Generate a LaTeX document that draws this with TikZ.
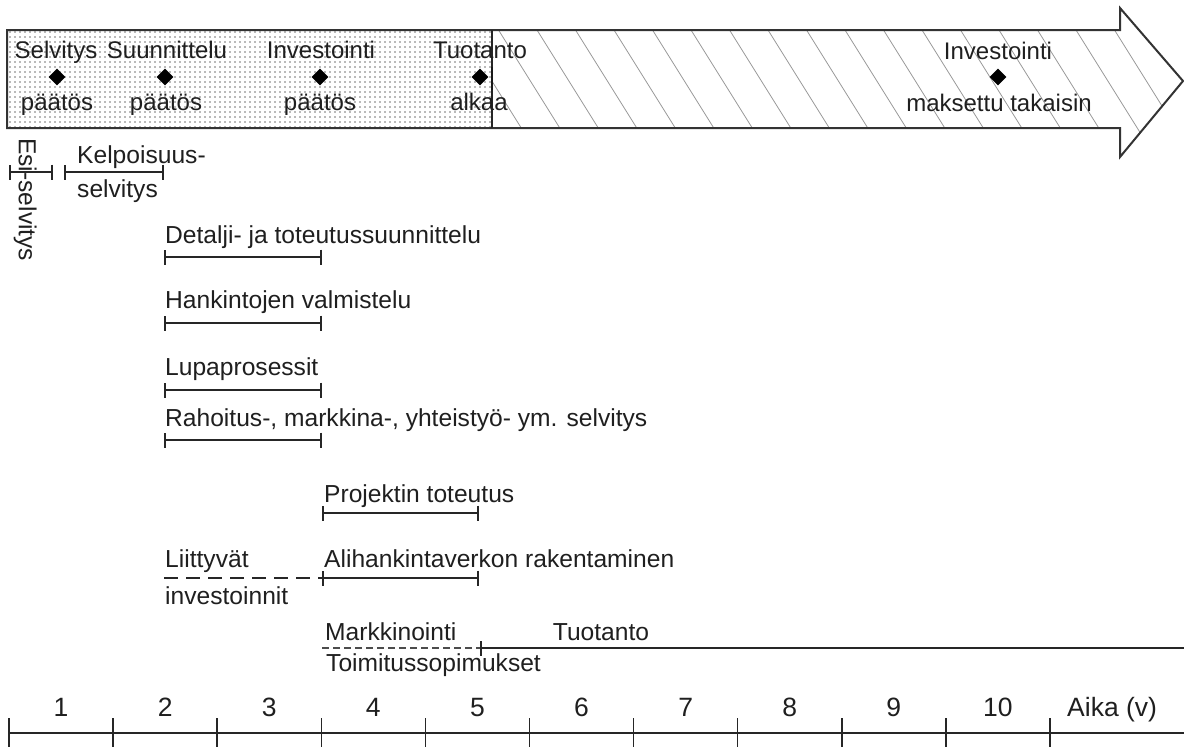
\documentclass[tikz,border=0pt]{standalone}
\usepackage{fontspec}
\setmainfont{Liberation Sans}
\usetikzlibrary{patterns.meta,shapes.geometric,arrows.meta}
\begin{document}
\begin{tikzpicture}[x=1pt,y=-1pt,
  lbl/.style={inner sep=0pt, text=black!88, font=\fontsize{24.6}{28}\selectfont},
  albl/.style={inner sep=0pt, text=black!88, font=\fontsize{24}{28}\selectfont},
  xlbl/.style={inner sep=0pt, text=black!88, font=\fontsize{26.5}{30}\selectfont},
  dia/.style={shape=diamond, fill=black, inner sep=0pt, minimum width=17pt, minimum height=17pt},
  span/.style={line width=1.8pt, draw=black!85, {Bar[width=15pt]}-{Bar[width=15pt]}},
  spanr/.style={line width=1.8pt, draw=black!85, {Bar[width=15pt]}-},
  longdash/.style={line width=1.6pt, draw=black!85, dash pattern=on 14pt off 8pt},
  shortdash/.style={line width=1.4pt, draw=black!70, dash pattern=on 7pt off 4pt},
  hatch/.style={draw=black!40, line width=0.8pt},
  ytick/.style={line width=1.5pt, draw=black!85},
]
\useasboundingbox (0,0) rectangle (1184,747);

% ---------- big arrow ----------
\begin{scope}
  \clip (7,30) rectangle (492,128);
  \fill[pattern={Dots[distance=5pt,radius=0.8pt]}, pattern color=black!55] (7,30) rectangle (492,128);
\end{scope}
\begin{scope}
  \clip (492,30) -- (1120,30) -- (1120,8) -- (1183,81) -- (1120,157) -- (1120,128) -- (492,128) -- cycle;
  \foreach \i in {-2,...,20} {
    \draw[hatch] ({537+38.5*\i-20},{30-32}) -- ++(140,224);
  }
\end{scope}
\draw[line width=2pt, draw=black!80, line join=miter]
  (7,30) -- (1120,30) -- (1120,8) -- (1183,81) -- (1120,157) -- (1120,128) -- (7,128) -- cycle;
\coordinate (divt) at (492,30);
\coordinate (divb) at (492,128);
\draw[line width=1.5pt, black!85] (divt) -- (divb);
\coordinate (tt) at (492,67);
\coordinate (tb) at (492,90);
\draw[line width=2.5pt, black!90] (tt) -- (tb);

% milestone labels
\node[albl, anchor=base] (m1t) at (56,58) {Selvitys};
\node[albl, anchor=base] (m2t) at (167,58) {Suunnittelu};
\node[albl, anchor=base] (m3t) at (321,58) {Investointi};
\node[albl, anchor=base] (m4t) at (480,58) {Tuotanto};
\node[albl, anchor=base] (m5t) at (998,59) {Investointi};
\node[dia] (d1) at (57,77) {};
\node[dia] (d2) at (165,77) {};
\node[dia] (d3) at (320,77) {};
\node[dia] (d4) at (480,77) {};
\node[dia] (d5) at (998,77) {};
\node[albl, anchor=base] (m1b) at (57,110) {päätös};
\node[albl, anchor=base] (m2b) at (166,110) {päätös};
\node[albl, anchor=base] (m3b) at (320,110) {päätös};
\node[albl, anchor=base] (m4b) at (479,110) {alkaa};
\node[albl, anchor=base] (m5b) at (999,111) {maksettu takaisin};

% ---------- early studies ----------
\node[lbl, rotate=-90, anchor=base west] (esi) at (19,138) {Esi-selvitys};
\coordinate (e1) at (9,172);
\coordinate (e2) at (53,172);
\draw[span] (e1) -- (e2);
\coordinate (k1) at (64,172);
\coordinate (k2) at (164,172);
\draw[span] (k1) -- (k2);
\node[lbl, anchor=base west] (kel1) at (77,163) {Kelpoisuus-};
\node[lbl, anchor=base west] (kel2) at (77,197) {selvitys};

% ---------- planning bars ----------
\node[lbl, anchor=base west] (det) at (165,243) {Detalji- ja toteutussuunnittelu};
\coordinate (det1) at (164,257); \coordinate (det2) at (322,257);
\draw[span] (det1) -- (det2);

\node[lbl, anchor=base west] (han) at (165,308) {Hankintojen valmistelu};
\coordinate (han1) at (164,323); \coordinate (han2) at (322,323);
\draw[span] (han1) -- (han2);

\node[lbl, anchor=base west] (lup) at (165,375) {Lupaprosessit};
\coordinate (lup1) at (164,390); \coordinate (lup2) at (322,390);
\draw[span] (lup1) -- (lup2);

\node[lbl, anchor=base west] (rah) at (165,426) {Rahoitus-, markkina-, yhteistyö- ym. selvitys};
\coordinate (rah1) at (164,440); \coordinate (rah2) at (322,440);
\draw[span] (rah1) -- (rah2);

% ---------- implementation ----------
\node[lbl, anchor=base west] (pro) at (324,502) {Projektin toteutus};
\coordinate (pro1) at (322,513); \coordinate (pro2) at (479,513);
\draw[span] (pro1) -- (pro2);

\node[lbl, anchor=base west] (lii1) at (165,567) {Liittyvät};
\node[lbl, anchor=base west] (lii2) at (165,604) {investoinnit};
\node[lbl, anchor=base west] (ali) at (324,567) {Alihankintaverkon rakentaminen};
\coordinate (lii0) at (164,578); \coordinate (ali1) at (322,578); \coordinate (ali2) at (479,578);
\draw[longdash] (lii0) -- (ali1);
\draw[span] (ali1) -- (ali2);

\node[lbl, anchor=base west] (mar) at (325,640) {Markkinointi};
\node[lbl, anchor=base] (tuo) at (601,640) {Tuotanto};
\node[lbl, anchor=base west] (toi) at (326,671) {Toimitussopimukset};
\coordinate (mar1) at (322,648); \coordinate (mar2) at (480,648); \coordinate (tuoe) at (1184,648);
\draw[shortdash] (mar1) -- (mar2);
\draw[spanr] (mar2) -- (tuoe);

% ---------- time axis ----------
\coordinate (ax0) at (9,733);
\coordinate (ax1) at (1184,733);
\draw[line width=2.5pt, black!85] (ax0) -- (ax1);
\foreach \k in {0,...,10} {
  \coordinate (t\k a) at ({9+104.1*\k},718);
  \coordinate (t\k b) at ({9+104.1*\k},747);
  \draw[ytick] (t\k a) -- (t\k b);
}
\foreach \k in {1,...,10} {
  \node[xlbl, anchor=base] (y\k) at ({9+104.1*(\k-0.5)},716) {\k};
}
\node[xlbl, anchor=base west] (aika) at (1067,716) {Aika (v)};
\end{tikzpicture}
\end{document}
